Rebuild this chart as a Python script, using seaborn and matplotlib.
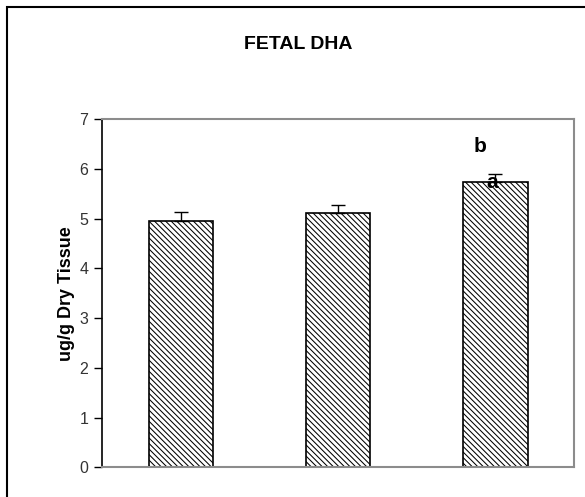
import matplotlib
matplotlib.use("Agg")
import matplotlib.pyplot as plt
import seaborn as sns
import pandas as pd
from matplotlib.patches import Rectangle

# values
groups = ["Group 1", "Group 2", "Group 3"]
dha_mean = [4.96, 5.12, 5.73]
dha_err = [0.17, 0.15, 0.17]
y_ticks = [0, 1, 2, 3, 4, 5, 6, 7]

sns.set_style("white")
plt.rcParams["font.family"] = ["Liberation Sans", "DejaVu Sans"]
plt.rcParams["text.color"] = "black"
plt.rcParams["axes.labelcolor"] = "black"
plt.rcParams["hatch.linewidth"] = 0.75
plt.rcParams["hatch.color"] = "black"

df = pd.DataFrame({"group": groups, "dha": dha_mean})

fig = plt.figure(figsize=(5.85, 4.97), dpi=100)
ax = fig.add_axes([0.175, 0.0594, 0.806, 0.7012])

sns.barplot(data=df, x="group", y="dha", ax=ax, color="white", width=0.41,
            edgecolor="black", linewidth=1.2, errorbar=None)
for bar in ax.patches:
    bar.set_hatch("\\" * 6)

# plus-only error bars, like the original
ax.errorbar(range(len(groups)), dha_mean, yerr=[[0] * len(groups), dha_err],
            fmt="none", ecolor="black", elinewidth=1, capsize=5, capthick=1)

# significance letters
ax.text(2 - 0.1, 6.45, "b", ha="center", va="center", fontsize=15, fontweight="bold")
ax.text(2 - 0.02, 5.73, "a", ha="center", va="center", fontsize=15, fontweight="bold")

ax.set_ylim(0, 7)
ax.set_xlim(-0.5, 2.5)
ax.set_yticks(y_ticks)
ax.set_yticklabels([str(t) for t in y_ticks], fontsize=11.5, color="#333333")
ax.set_xticks([])
ax.set_xlabel("")
ax.set_ylabel("ug/g Dry Tissue", fontsize=13, fontweight="bold", labelpad=3)
ax.tick_params(axis="y", direction="out", length=6, width=1, left=True, color="black", pad=4)

for side in ["top", "right", "bottom"]:
    ax.spines[side].set_visible(True)
    ax.spines[side].set_color("#8c8c8c")
    ax.spines[side].set_linewidth(1.5)
ax.spines["left"].set_color("black")
ax.spines["left"].set_linewidth(1.2)

fig.text(0.51, 0.91, "FETAL DHA", ha="center", va="center", fontsize=14, fontweight="bold")

# outer chart frame (right and bottom edges fall outside the image)
fig.patches.append(Rectangle((7 / 585, -0.05), 1.1, 0.986 + 0.05, transform=fig.transFigure,
                             fill=False, edgecolor="black", linewidth=1.5))

fig.savefig("out.png", dpi=100)
